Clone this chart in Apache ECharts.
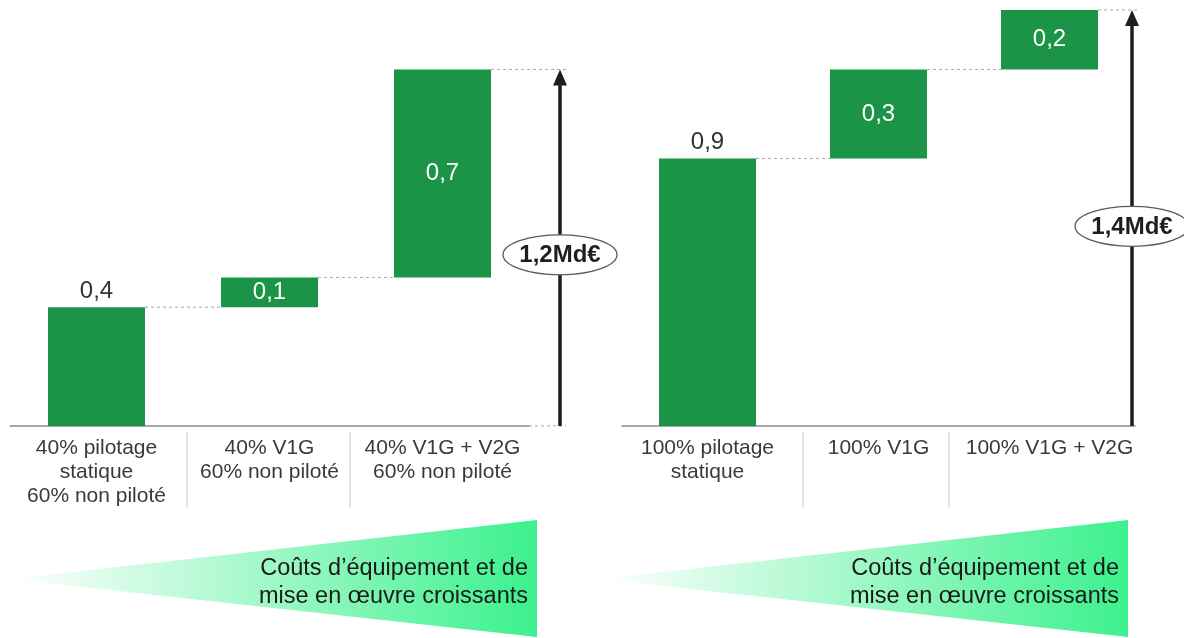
<!DOCTYPE html>
<html>
<head>
<meta charset="utf-8">
<style>
  html, body { margin: 0; padding: 0; background: #ffffff; }
  #chart { width: 1184px; height: 638px; }
</style>
<script src="https://cdn.jsdelivr.net/npm/echarts@6/dist/echarts.min.js"></script>
</head>
<body>
<div id="chart"></div>
<script>
// Coûts de pilotage de la recharge — deux scénarios en cascade (Md€)
const leftCategories = [
  '40% pilotage\nstatique\n60% non piloté',
  '40% V1G\n60% non piloté',
  '40% V1G + V2G\n60% non piloté'
];
const leftValues = [0.4, 0.1, 0.7];

const rightCategories = [
  '100% pilotage\nstatique',
  '100% V1G',
  '100% V1G + V2G'
];
const rightValues = [0.9, 0.3, 0.2];

const totalUnit = 'Md€';
const wedgeText = 'Coûts d’équipement et de\nmise en œuvre croissants';

const FONT = '"Liberation Sans", Arial, Helvetica, sans-serif';
const GREEN = '#1b9447';
const BAR_WIDTH = 97;
const Y_MAX = 1.4;

const fmt = v => (Math.round(v * 10) / 10).toFixed(1).replace('.', ',');

function cumulativeBase(values) {
  const out = [];
  let acc = 0;
  values.forEach(v => { out.push(acc); acc += v; });
  return out;
}

function valueData(values) {
  return values.map((v, i) => ({
    value: v,
    label: i === 0
      ? { show: true, position: 'top', distance: 4, color: '#333333', fontSize: 24, fontFamily: FONT, formatter: p => fmt(p.value) }
      : { show: true, position: 'inside', color: '#ffffff', fontSize: 24, fontFamily: FONT, formatter: p => fmt(p.value) }
  }));
}

// Connectors, separators, total arrow and its ellipse tag
function overlay(values, arrowGap, sepShift) {
  return function (params, api) {
    const n = values.length;
    const half = BAR_WIDTH / 2;
    const baseY = api.coord([0, 0])[1];
    const step = api.coord([1, 0])[0] - api.coord([0, 0])[0];
    const lastX = api.coord([n - 1, 0])[0];
    const gridRight = lastX + step / 2;
    const arrowX = lastX + arrowGap;
    const children = [];
    const dotted = { stroke: '#a9a9a9', lineWidth: 1, lineDash: [3, 3] };

    let level = 0;
    for (let i = 0; i < n; i++) {
      level += values[i];
      const p = api.coord([i, level]);
      const xEnd = i < n - 1 ? api.coord([i + 1, level])[0] - half : arrowX + 6;
      children.push({ type: 'line', shape: { x1: p[0] + half, y1: p[1], x2: xEnd, y2: p[1] }, style: dotted });
    }
    // baseline continuation to the arrow
    const bx1 = Math.min(gridRight, arrowX), bx2 = Math.max(gridRight, arrowX + 6);
    children.push({ type: 'line', shape: { x1: bx1, y1: baseY, x2: bx2, y2: baseY }, style: dotted });

    // separators under the axis between category labels
    for (let i = 0; i < n - 1; i++) {
      const sx = (api.coord([i, 0])[0] + api.coord([i + 1, 0])[0]) / 2 + sepShift[i];
      children.push({ type: 'line', shape: { x1: sx, y1: baseY + 6, x2: sx, y2: baseY + 82 }, style: { stroke: '#d4d4d4', lineWidth: 1.2 } });
    }

    // total arrow
    const topY = api.coord([0, level])[1];
    children.push({ type: 'line', shape: { x1: arrowX, y1: baseY, x2: arrowX, y2: topY + 12 }, style: { stroke: '#1e1e1e', lineWidth: 3.5 } });
    children.push({ type: 'polygon', shape: { points: [[arrowX - 7, topY + 16], [arrowX, topY], [arrowX + 7, topY + 16]] }, style: { fill: '#1e1e1e' } });

    // ellipse tag with the total
    const tagY = api.coord([0, level * 0.48])[1];
    children.push({ type: 'ellipse', shape: { cx: arrowX, cy: tagY, rx: 57, ry: 20 }, style: { fill: '#ffffff', stroke: '#5a5a5a', lineWidth: 1.3 } });
    children.push({ type: 'text', x: arrowX, y: tagY + 1, style: { text: fmt(level) + totalUnit, align: 'center', verticalAlign: 'middle', font: 'bold 24px ' + FONT, fill: '#1e1e1e' } });

    return { type: 'group', children };
  };
}

function xAxisFor(categories, gridIndex) {
  return {
    type: 'category', gridIndex, data: categories,
    axisLine: { show: true, lineStyle: { color: '#8c8c8c', width: 1.5 } },
    axisTick: { show: false },
    axisLabel: { interval: 0, margin: 10, fontSize: 21, lineHeight: 24, color: '#3a3a3a', fontFamily: FONT }
  };
}
function yAxisFor(gridIndex) {
  return { type: 'value', gridIndex, min: 0, max: Y_MAX, show: false, splitLine: { show: false } };
}

function panelSeries(values, idx, arrowGap, sepShift) {
  return [
    { type: 'bar', xAxisIndex: idx, yAxisIndex: idx, stack: 'w' + idx, barWidth: BAR_WIDTH, silent: true,
      itemStyle: { color: 'transparent' }, data: cumulativeBase(values) },
    { type: 'bar', xAxisIndex: idx, yAxisIndex: idx, stack: 'w' + idx, barWidth: BAR_WIDTH,
      itemStyle: { color: GREEN }, data: valueData(values) },
    { type: 'custom', xAxisIndex: idx, yAxisIndex: idx, clip: false, z: 3,
      renderItem: overlay(values, arrowGap, sepShift), data: [[0, 0]] }
  ];
}

function wedge(tipX, rightX, textX) {
  return [
    { type: 'polygon', z: 0, shape: { points: [[tipX, 579], [rightX, 520], [rightX, 637]] },
      style: { fill: { type: 'linear', x: 0, y: 0, x2: 1, y2: 0,
        colorStops: [{ offset: 0, color: '#ffffff' }, { offset: 1, color: '#3cf18d' }] } } },
    { type: 'text', z: 1, x: textX, y: 583,
      style: { text: wedgeText, align: 'right', verticalAlign: 'middle', font: '23.5px ' + FONT, lineHeight: 28, fill: '#1a1a1a' } }
  ];
}

const chart = echarts.init(document.getElementById('chart'));
chart.setOption({
  animation: false,
  backgroundColor: '#ffffff',
  grid: [
    { left: 10, top: 10, width: 519, height: 416 },
    { left: 622, top: 10, width: 513, height: 416 }
  ],
  xAxis: [xAxisFor(leftCategories, 0), xAxisFor(rightCategories, 1)],
  yAxis: [yAxisFor(0), yAxisFor(1)],
  series: [
    ...panelSeries(leftValues, 0, 117.5, [4, -6]),
    ...panelSeries(rightValues, 1, 82.5, [10, -15])
  ],
  graphic: [
    ...wedge(10, 537, 528),
    ...wedge(600, 1128, 1119)
  ]
});
</script>
</body>
</html>
